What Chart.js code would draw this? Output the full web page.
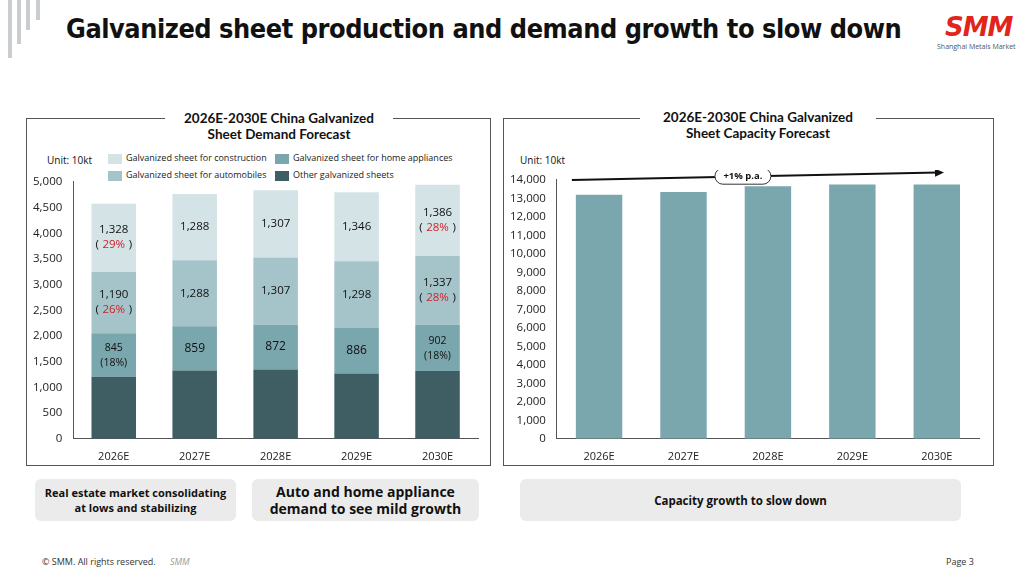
<!DOCTYPE html>
<html><head><meta charset="utf-8">
<script src="https://cdn.jsdelivr.net/npm/chart.js@4"></script>
<style>
body{margin:0;width:1024px;height:576px;background:#fff;font-family:"Open Sans",Lato,sans-serif;position:relative;overflow:hidden}
.abs{position:absolute}
.panel{position:absolute;border:1px solid #555;box-sizing:border-box}
.ptitle{position:absolute;background:#fff;text-align:center;font-weight:bold;font-size:13.5px;line-height:16px;color:#111;font-family:Lato,sans-serif}
.box{position:absolute;background:#ebebeb;border-radius:6px;display:flex;align-items:center;justify-content:center;text-align:center;font-weight:bold;color:#111}
.sw{display:inline-block;width:14px;height:10px;vertical-align:middle;margin-right:4px}
</style></head><body>
<div class="abs" style="left:8px;top:0;width:4px;height:58px;background:#c9cdd0"></div>
<div class="abs" style="left:17px;top:0;width:4px;height:44px;background:#c9cdd0"></div>
<div class="abs" style="left:26px;top:0;width:4px;height:30px;background:#c9cdd0"></div>
<div class="abs" style="left:36px;top:0;width:4px;height:20px;background:#c9cdd0"></div>
<div class="abs" style="left:66px;top:14px;font-size:26px;font-weight:900;color:#111;font-family:'DejaVu Sans',sans-serif;letter-spacing:-0.5px;white-space:nowrap;transform:scaleX(0.93);transform-origin:left">Galvanized sheet production and demand growth to slow down</div>
<div class="abs" style="left:945px;top:12px;font-size:26px;font-weight:900;color:#e1251b;font-style:italic;font-family:'DejaVu Sans',sans-serif;letter-spacing:-1px">SMM</div>
<div class="abs" style="left:937px;top:42px;font-size:7px;color:#555">Shanghai Metals Market</div>

<div class="panel" style="left:26px;top:118px;width:465px;height:348px"></div>
<div class="panel" style="left:503px;top:118px;width:491px;height:348px"></div>
<div class="ptitle" style="left:165px;top:110px;width:228px">2026E-2030E China Galvanized<br>Sheet Demand Forecast</div>
<div class="ptitle" style="left:640px;top:109px;width:236px">2026E-2030E China Galvanized<br>Sheet Capacity Forecast</div>
<div class="abs" style="left:47px;top:153px;font-size:10px;color:#111">Unit: 10kt</div>
<div class="abs" style="left:520px;top:153px;font-size:10px;color:#111">Unit: 10kt</div>
<div class="abs" style="left:108px;top:149px;font-size:9px;color:#222;line-height:17px;width:170px;white-space:nowrap">
<div><span class="sw" style="background:#d3e3e6"></span>Galvanized sheet for construction</div>
<div><span class="sw" style="background:#a5c4ca"></span>Galvanized sheet for automobiles</div>
</div>
<div class="abs" style="left:275px;top:149px;font-size:9px;color:#222;line-height:17px;width:200px;white-space:nowrap">
<div><span class="sw" style="background:#7aa6ae"></span>Galvanized sheet for home appliances</div>
<div><span class="sw" style="background:#3e5e63"></span>Other galvanized sheets</div>
</div>
<div class="abs" style="left:30px;top:172px;width:458px;height:294px"><canvas id="c1"></canvas></div>
<div class="abs" style="left:507px;top:170px;width:484px;height:296px"><canvas id="c2"></canvas></div>

<div class="box" style="left:35px;top:479px;width:201px;height:42px;font-size:11px;line-height:15px">Real estate market consolidating<br>at lows and stabilizing</div>
<div class="box" style="left:252px;top:479px;width:227px;height:42px;font-size:14px;line-height:17px">Auto and home appliance<br>demand to see mild growth</div>
<div class="box" style="left:520px;top:479px;width:441px;height:42px;font-size:11.5px">Capacity growth to slow down</div>
<div class="abs" style="left:42px;top:555px;font-size:9px;color:#333">© SMM. All rights reserved.</div>
<div class="abs" style="left:170px;top:555px;font-size:9px;color:#999;font-style:italic">SMM</div>
<div class="abs" style="left:946px;top:555px;font-size:9px;color:#333">Page 3</div>
<script>
const years=["2026E","2027E","2028E","2029E","2030E"];
const other=[1210,1330,1350,1270,1320];
const appliances=[845,859,872,886,902];
const autos=[1190,1288,1307,1298,1337];
const construction=[1328,1288,1307,1346,1386];
const appLbl=[["845","(18%)"],["859"],["872"],["886"],["902","(18%)"]];
const autoPct=["26%",null,null,null,"28%"];
const consPct=["29%",null,null,null,"28%"];
const capacity=[13200,13350,13650,13750,13750];
const demandTicks=[0,500,1000,1500,2000,2500,3000,3500,4000,4500,5000];

Chart.defaults.font={family:"'Open Sans',sans-serif",size:11};Chart.defaults.color="#222";
const labelPlugin={id:'lbl',afterDatasetsDraw(ch){
 const ctx=ch.ctx;ctx.save();ctx.textAlign='center';ctx.textBaseline='middle';
 [[1,'app'],[2,'auto'],[3,'cons']].forEach(([di,k])=>{const m=ch.getDatasetMeta(di);m.data.forEach((b,i)=>{
  const y=(b.y+b.base)/2,x=b.x;
  if(k==='app'){const l=appLbl[i];ctx.fillStyle='#111';if(l.length>1){ctx.font="10.5px 'Open Sans'";ctx.fillText(l[0],x,y-7);ctx.fillText(l[1],x,y+8);}else{ctx.font="12px 'Open Sans'";ctx.fillText(l[0],x,y);}}
  else{const v=ch.data.datasets[di].data[i].toLocaleString('en-US');const p=(k==='auto'?autoPct:consPct)[i];
   ctx.font="11.5px 'Open Sans'";ctx.fillStyle='#111';
   if(p){ctx.fillText(v,x,y-8);ctx.fillText('(          )',x,y+7);ctx.fillStyle='#d0202a';ctx.fillText(p,x,y+7);}else ctx.fillText(v,x,y);}
 });});ctx.restore();}};
new Chart(document.getElementById('c1'),{type:'bar',plugins:[labelPlugin],
 data:{labels:years,datasets:[
  {label:'Other galvanized sheets',data:other,backgroundColor:'#3e5e63'},
  {label:'Galvanized sheet for home appliances',data:appliances,backgroundColor:'#7aa6ae'},
  {label:'Galvanized sheet for automobiles',data:autos,backgroundColor:'#a5c4ca'},
  {label:'Galvanized sheet for construction',data:construction,backgroundColor:'#d3e3e6'}]},
 options:{responsive:true,maintainAspectRatio:false,animation:false,
  layout:{padding:{top:2,right:10}},
  plugins:{legend:{display:false},tooltip:{enabled:false}},
  datasets:{bar:{categoryPercentage:1,barPercentage:0.55}},
  scales:{x:{stacked:true,grid:{display:false},border:{color:'#555'},ticks:{font:{size:11}}},
   y:{stacked:true,min:0,max:5000,afterBuildTicks:a=>{a.ticks=demandTicks.map(v=>({value:v}))},grid:{display:false},border:{color:'#555'},ticks:{font:{size:11.5},callback:v=>v.toLocaleString('en-US')}}}}});

const arrowPlugin={id:'arr',afterDatasetsDraw(ch){
 const ctx=ch.ctx,a=ch.chartArea;ctx.save();
 const x1=a.left+15,y1=ch.scales.y.getPixelForValue(14000),x2=a.right-35,y2=ch.scales.y.getPixelForValue(14400);
 ctx.strokeStyle='#111';ctx.lineWidth=2;ctx.beginPath();ctx.moveTo(x1,y1);ctx.lineTo(x2-6,y2);ctx.stroke();
 const ang=Math.atan2(y2-y1,x2-x1);ctx.fillStyle='#111';ctx.beginPath();ctx.moveTo(x2,y2);
 ctx.lineTo(x2-9*Math.cos(ang)+4*Math.sin(ang),y2-9*Math.sin(ang)-4*Math.cos(ang));
 ctx.lineTo(x2-9*Math.cos(ang)-4*Math.sin(ang),y2-9*Math.sin(ang)+4*Math.cos(ang));ctx.fill();
 const cx=(x1+x2)/2-15,cy=(y1+y2)/2;ctx.fillStyle='#fff';ctx.strokeStyle='#333';ctx.lineWidth=1;
 ctx.beginPath();ctx.roundRect(cx-28,cy-8,56,16,8);ctx.fill();ctx.stroke();
 ctx.fillStyle='#111';ctx.font="bold 9.5px 'Open Sans'";ctx.textAlign='center';ctx.textBaseline='middle';ctx.fillText('+1% p.a.',cx,cy);
 ctx.restore();}};
new Chart(document.getElementById('c2'),{type:'bar',plugins:[arrowPlugin],
 data:{labels:years,datasets:[{label:'Capacity',data:capacity,backgroundColor:'#7aa6ae'}]},
 options:{responsive:true,maintainAspectRatio:false,animation:false,
  layout:{padding:{top:3,right:12}},
  plugins:{legend:{display:false},tooltip:{enabled:false}},
  datasets:{bar:{categoryPercentage:1,barPercentage:0.55}},
  scales:{x:{grid:{display:false},border:{color:'#555'},ticks:{font:{size:11}}},
   y:{min:0,max:14000,ticks:{stepSize:1000,font:{size:11.5},callback:v=>v.toLocaleString('en-US')},grid:{display:false},border:{color:'#555'}}}}});
</script></body></html>
